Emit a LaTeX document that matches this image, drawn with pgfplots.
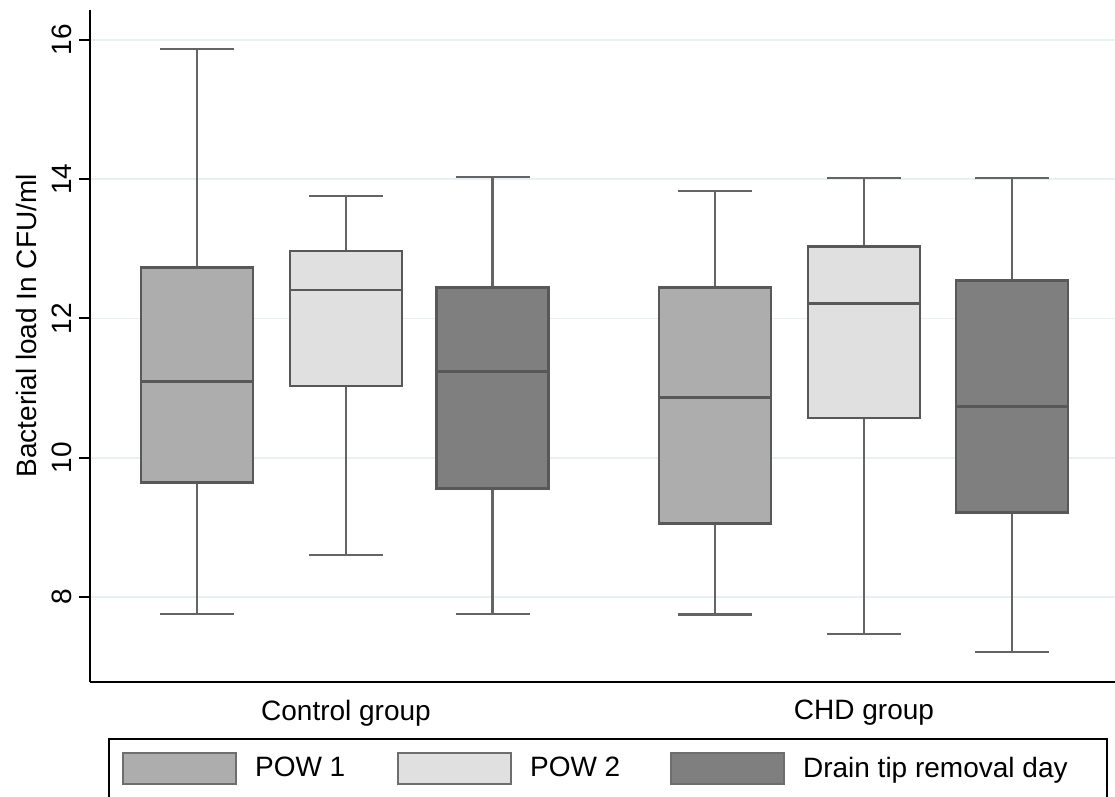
\documentclass[border=0pt]{standalone}
\usepackage{fontspec}
\setmainfont{Liberation Sans}
\usepackage{pgfplots}
\pgfplotsset{compat=1.18}
\usepgfplotslibrary{statistics}
\definecolor{powone}{RGB}{173,173,173}
\definecolor{powtwo}{RGB}{224,224,224}
\definecolor{drain}{RGB}{127,127,127}
\definecolor{edge}{RGB}{88,88,88}
\definecolor{whisk}{RGB}{100,100,100}
\definecolor{swatchedge}{RGB}{110,110,110}
\definecolor{gridc}{RGB}{232,240,241}
\pgfplotsset{
  swatch/.style={legend image code/.code={%
    \draw[line width=0.9pt, draw=swatchedge, fill=#1] (0pt,-7.75pt) rectangle (56.5pt,7.75pt);
    \path (65.5pt,0pt);}},
}
\begin{document}
\begin{tikzpicture}
\useasboundingbox (0,0) rectangle (557.5pt,398.5pt);
\begin{axis}[
  at={(45pt,57.5pt)}, anchor=south west,
  scale only axis, width=512.5pt, height=336pt,
  xmin=0, xmax=10.25, ymin=6.78, ymax=16.43,
  axis x line*=bottom, axis y line*=left,
  axis line style={line width=1pt, black},
  ytick={8,10,12,14,16},
  xtick={2.56,7.74}, xticklabels={Control group, CHD group},
  xtick style={draw=none},
  ytick style={line width=1pt, black},
  tick align=outside, major tick length=5.5pt,
  ymajorgrids, grid style={line width=0.9pt, gridc},
  yticklabel style={rotate=90, anchor=south},
  tick label style={font=\fontsize{14}{17}\selectfont},
  /pgf/number format/assume math mode=true,
  ylabel={Bacterial load In CFU/ml},
  ylabel style={font=\fontsize{14}{17}\selectfont, at={(axis description cs:-0.0624,0.53)}, anchor=center},
  boxplot/draw direction=y,
  boxplot/box extend=1.12, boxplot/whisker extend=0.74,
  boxplot/every whisker/.style={line width=1.1pt, draw=whisk},
  boxplot/every box/.style={line width=1.4pt},
  boxplot/every median/.style={line width=1.4pt},
  legend columns=3, legend cell align=left,
  legend style={at={(axis description cs:0.01756,-0.0833)}, anchor=north west,
    draw=black, line width=1.1pt, inner xsep=6.5pt, inner ysep=6.5pt,
    font=\fontsize{14}{17}\selectfont, nodes={inner sep=0pt}, column sep=0pt},
]
% Control group
\addplot[boxplot prepared={draw position=1.07, lower whisker=7.76, lower quartile=9.65, median=11.10, upper quartile=12.73, upper whisker=15.87},
  fill=powone, draw=edge, swatch=powone] coordinates {};
\addlegendentry{\makebox[71pt][l]{POW 1}}
\addplot[boxplot prepared={draw position=2.56, lower whisker=8.60, lower quartile=11.03, median=12.41, upper quartile=12.97, upper whisker=13.76},
  fill=powtwo, draw=edge, swatch=powtwo] coordinates {};
\addlegendentry{\makebox[70pt][l]{POW 2}}
\addplot[boxplot prepared={draw position=4.025, lower whisker=7.76, lower quartile=9.56, median=11.24, upper quartile=12.44, upper whisker=14.03},
  fill=drain, draw=edge, swatch=drain] coordinates {};
\addlegendentry{\makebox[145.5pt][l]{Drain tip removal day}}
% CHD group
\addplot[boxplot prepared={draw position=6.25, lower whisker=7.75, lower quartile=9.06, median=10.87, upper quartile=12.44, upper whisker=13.83},
  fill=powone, draw=edge] coordinates {};
\addplot[boxplot prepared={draw position=7.74, lower whisker=7.47, lower quartile=10.57, median=12.22, upper quartile=13.03, upper whisker=14.02},
  fill=powtwo, draw=edge] coordinates {};
\addplot[boxplot prepared={draw position=9.22, lower whisker=7.21, lower quartile=9.21, median=10.74, upper quartile=12.54, upper whisker=14.02},
  fill=drain, draw=edge] coordinates {};
\end{axis}
\end{tikzpicture}
\end{document}
